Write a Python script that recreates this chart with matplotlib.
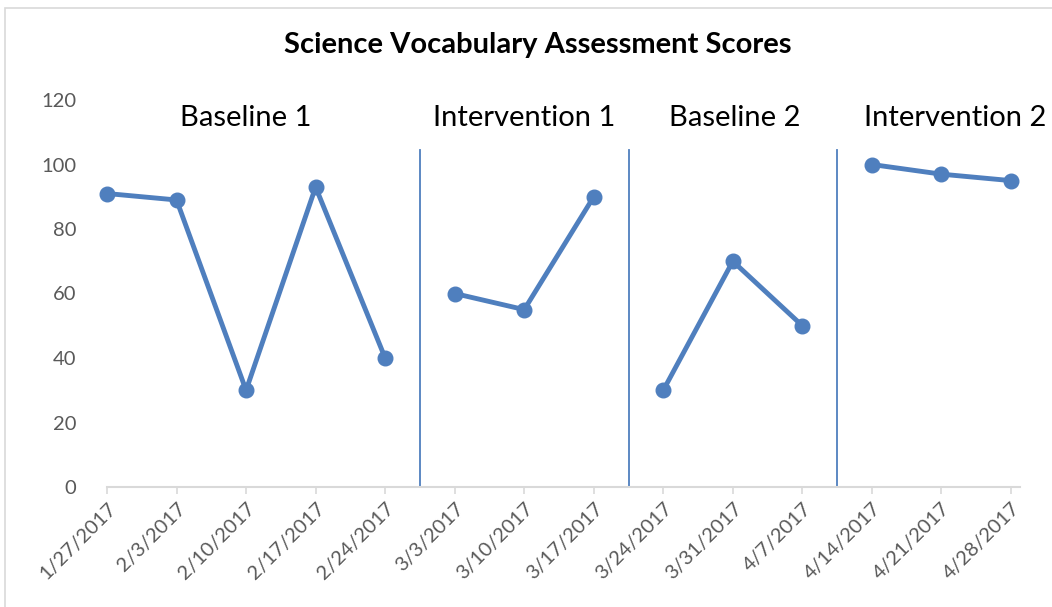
import matplotlib
matplotlib.use("Agg")
import matplotlib.pyplot as plt
from matplotlib.patches import Rectangle

dates = ["1/27/2017", "2/3/2017", "2/10/2017", "2/17/2017", "2/24/2017",
         "3/3/2017", "3/10/2017", "3/17/2017",
         "3/24/2017", "3/31/2017", "4/7/2017",
         "4/14/2017", "4/21/2017", "4/28/2017"]
phase_names = ["Baseline 1", "Intervention 1", "Baseline 2", "Intervention 2"]
baseline1 = [91, 89, 30, 93, 40]
intervention1 = [60, 55, 90]
baseline2 = [30, 70, 50]
intervention2 = [100, 97, 95]
phases = [baseline1, intervention1, baseline2, intervention2]
yticks = [0, 20, 40, 60, 80, 100, 120]

FONT = ["Lato", "DejaVu Sans"]
plt.rcParams['font.family'] = FONT
blue = "#4F7FBE"
gray_txt = "#595959"
label_shift = [0.0, 0.0, 0.03, 0.2]

fig = plt.figure(figsize=(10.52, 6.07), dpi=100)
fig.patches.append(Rectangle((5/1052, -0.1), 1.2, 1 - 8/607 + 0.1, transform=fig.transFigure,
                             fill=False, edgecolor="#D9D9D9", linewidth=1.2))
ax = fig.add_axes([107/1052, 120/607, (1020-107)/1052, (487-100)/607])

start = 0
boundaries = []
for name, vals, sh in zip(phase_names, phases, label_shift):
    xs = list(range(start, start + len(vals)))
    ax.plot(xs, vals, color=blue, linewidth=3.5, marker="o", markersize=10.5,
            clip_on=False, solid_capstyle="round", zorder=3)
    center = start + (len(vals) - 1) / 2 + sh
    ax.text(center, 114.5, name, ha="center", va="center", fontsize=21, color="black",
            clip_on=False)
    start += len(vals)
    boundaries.append(start - 0.5)

for b in boundaries[:-1]:
    ax.plot([b, b], [0, 104.5], color=blue, linewidth=1.3, zorder=2)

ax.set_xlim(0, 13.13)
ax.set_ylim(0, 120)
ax.set_xticks(range(len(dates)))
ax.set_xticklabels(dates, rotation=45, ha="right", rotation_mode="anchor",
                   fontsize=14.5, color=gray_txt)
ax.set_yticks(yticks)
ax.set_yticklabels([str(v) for v in yticks], fontsize=14.5, color=gray_txt)
ax.tick_params(axis="y", length=0, pad=22)
ax.tick_params(axis="x", length=5, width=1.2, color="#D9D9D9", pad=4)
for s in ["top", "right", "left"]:
    ax.spines[s].set_visible(False)
ax.spines["bottom"].set_color("#D9D9D9")
ax.spines["bottom"].set_linewidth(1.5)

fig.text(538/1052, 1 - 45/607, "Science Vocabulary Assessment Scores", ha="center", va="center",
         fontsize=21, fontweight="bold", color="black")

fig.savefig("out.png", dpi=100)
